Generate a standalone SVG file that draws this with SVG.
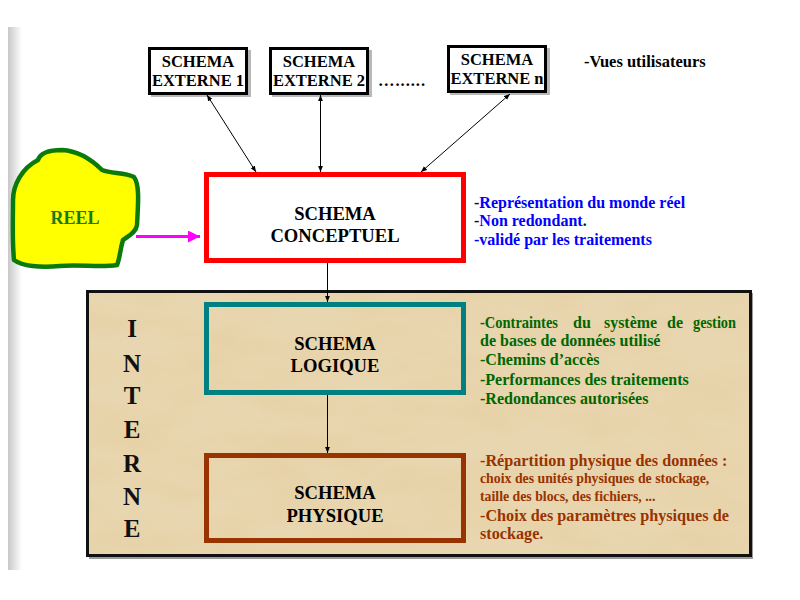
<svg xmlns="http://www.w3.org/2000/svg" width="800" height="600" viewBox="0 0 800 600">
<defs>
<style>
.t{font-family:"Liberation Serif","Times New Roman",serif;font-weight:bold}
.box{fill:#fff;stroke:#000;stroke-width:3}
.shadow{fill:#b8b8b8}
.conn{stroke:#000;stroke-width:1;fill:none}
.blue{fill:#0000ff;font-size:16px}
.green{fill:#006600;font-size:16px}
.brown{fill:#993300}
</style>
<linearGradient id="strip" x1="0" y1="0" x2="1" y2="0">
<stop offset="0" stop-color="#c8c8c8"/>
<stop offset="1" stop-color="#ffffff"/>
</linearGradient>
<filter id="parch" x="0" y="0" width="100%" height="100%">
<feTurbulence type="fractalNoise" baseFrequency="0.012 0.03" numOctaves="4" seed="7"/>
<feColorMatrix type="matrix" values="0 0 0 0 0.80  0 0 0 0 0.64  0 0 0 0 0.38  2 0 0 0 -0.7"/>
<feComposite in2="SourceGraphic" operator="in"/>
</filter>
<marker id="ah" viewBox="0 0 10 10" refX="10" refY="5" markerWidth="6" markerHeight="6" orient="auto-start-reverse">
<path d="M0,1 L10,5 L0,9 z" fill="#000"/>
</marker>
<marker id="mh" viewBox="0 0 10 10" refX="10" refY="5" markerWidth="4" markerHeight="4" orient="auto">
<path d="M0,0 L10,5 L0,10 z" fill="#ff00ff"/>
</marker>
</defs>
<rect width="800" height="600" fill="#fff"/>
<rect x="8" y="27" width="14" height="543" fill="url(#strip)"/>

<g id="interne">
<rect x="89" y="293" width="664" height="266" fill="#9a9a9a"/>
<rect x="87.5" y="291.5" width="663" height="264" fill="#e8d6b0" stroke="#111" stroke-width="3"/>
<rect x="89" y="293" width="660" height="261" fill="#fff" filter="url(#parch)"/>
<g class="t" font-size="25" fill="#111" text-anchor="middle">
<text x="132" y="337">I</text>
<text x="132" y="372">N</text>
<text x="132" y="404">T</text>
<text x="132" y="438">E</text>
<text x="132" y="472">R</text>
<text x="132" y="505">N</text>
<text x="132" y="537">E</text>
</g>
</g>

<g id="externe1">
<rect class="shadow" x="151" y="50" width="100" height="47"/>
<rect class="box" x="149.5" y="48.5" width="97" height="45"/>
<text class="t" font-size="16.5" text-anchor="middle" x="198" y="67">SCHEMA</text>
<text class="t" font-size="16.5" text-anchor="middle" x="198" y="86">EXTERNE 1</text>
</g>
<g id="externe2">
<rect class="shadow" x="272" y="50" width="100" height="47"/>
<rect class="box" x="270.5" y="48.5" width="97" height="45"/>
<text class="t" font-size="16.5" text-anchor="middle" x="319" y="67">SCHEMA</text>
<text class="t" font-size="16.5" text-anchor="middle" x="319" y="86">EXTERNE 2</text>
</g>
<text class="t" font-size="16.5" x="378" y="86" textLength="47">…......</text>
<g id="externen">
<rect class="shadow" x="450" y="48" width="100" height="47"/>
<rect class="box" x="448.5" y="46.5" width="97" height="45"/>
<text class="t" font-size="16.5" text-anchor="middle" x="497" y="65">SCHEMA</text>
<text class="t" font-size="16.5" text-anchor="middle" x="497" y="84">EXTERNE n</text>
</g>
<text class="t" font-size="16.5" x="584" y="67">-Vues utilisateurs</text>

<g id="reel">
<path d="M13,200 C13,185 22,168 38,160 C40,154 48,150 62,150 C80,151 92,160 102,170 C112,174 124,172 134,177 C140,185 138,205 137,225 C136,233 128,236 123,240 C120,250 120,258 117,265 C100,268 80,264 60,266 C40,268 22,266 14,260 C12,240 13,220 13,200 Z" fill="#ffff00" stroke="#0a7a0a" stroke-width="4.5" stroke-linejoin="round"/>
<text class="t" font-size="18" fill="#1a7a1a" text-anchor="middle" x="75" y="224">REEL</text>
</g>

<g id="conceptuel">
<rect x="206.5" y="174.5" width="257" height="86" fill="#fff" stroke="#ff0000" stroke-width="5"/>
<text class="t" font-size="18.6" text-anchor="middle" x="335" y="220">SCHEMA</text>
<text class="t" font-size="18.6" text-anchor="middle" x="335" y="242">CONCEPTUEL</text>
</g>
<g class="t blue">
<text x="474" y="208"><tspan fill="#111">-</tspan>Représentation du monde réel</text>
<text x="474" y="226"><tspan fill="#111">-</tspan>Non redondant<tspan fill="#111">.</tspan></text>
<text x="474" y="245">-validé par les traitements</text>
</g>

<g id="logique">
<rect x="206.5" y="304.5" width="257" height="88" fill="none" stroke="#008080" stroke-width="5"/>
<text class="t" font-size="18.6" text-anchor="middle" x="335" y="350">SCHEMA</text>
<text class="t" font-size="18.6" text-anchor="middle" x="335" y="372">LOGIQUE</text>
</g>
<g class="t green">
<text x="480" y="328" textLength="78" lengthAdjust="spacingAndGlyphs">-Contraintes</text>
<text x="573" y="328">du</text>
<text x="604" y="328" textLength="53" lengthAdjust="spacingAndGlyphs">système</text>
<text x="667" y="328">de</text>
<text x="693" y="328" textLength="43" lengthAdjust="spacingAndGlyphs">gestion</text>
<text x="480" y="346">de bases de données utilisé</text>
<text x="480" y="365">-Chemins d’accès</text>
<text x="480" y="385">-Performances des traitements</text>
<text x="480" y="404">-Redondances autorisées</text>
</g>

<g id="physique">
<rect x="206.5" y="455.5" width="257" height="85" fill="none" stroke="#993300" stroke-width="5"/>
<text class="t" font-size="18.6" text-anchor="middle" x="335" y="499">SCHEMA</text>
<text class="t" font-size="18.6" text-anchor="middle" x="335" y="522">PHYSIQUE</text>
</g>
<g class="t brown">
<text x="480" y="466" font-size="16.2">-Répartition physique des données :</text>
<text x="480" y="483" font-size="13.8">choix des unités physiques de stockage,</text>
<text x="480" y="501" font-size="13.8">taille des blocs, des fichiers, ...</text>
<text x="480" y="521" font-size="16.2">-Choix des paramètres physiques de</text>
<text x="480" y="539" font-size="16.2">stockage.</text>
</g>

<g id="connectors">
<line class="conn" x1="207" y1="95" x2="256" y2="172" marker-start="url(#ah)" marker-end="url(#ah)"/>
<line class="conn" x1="320.5" y1="95" x2="320.5" y2="172" marker-start="url(#ah)" marker-end="url(#ah)"/>
<line class="conn" x1="510" y1="94" x2="421" y2="172" marker-start="url(#ah)" marker-end="url(#ah)"/>
<line class="conn" x1="327.5" y1="263" x2="327.5" y2="302" marker-end="url(#ah)"/>
<line class="conn" x1="327.5" y1="395" x2="327.5" y2="453" marker-end="url(#ah)"/>
<line x1="136" y1="236.5" x2="200" y2="236.5" stroke="#ff00ff" stroke-width="3" marker-end="url(#mh)"/>
</g>
</svg>
